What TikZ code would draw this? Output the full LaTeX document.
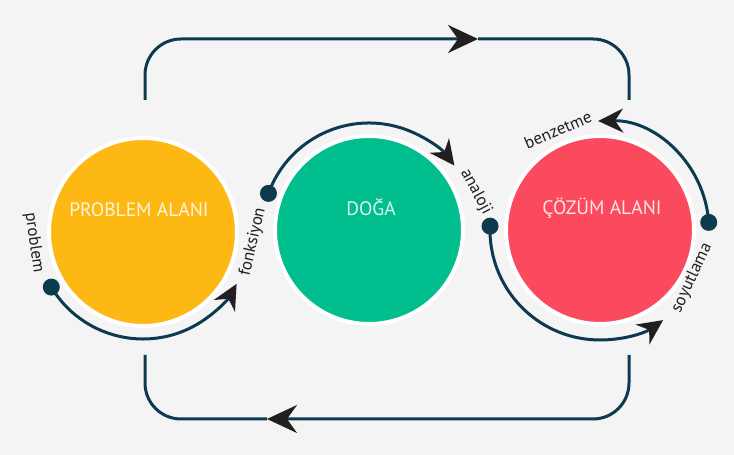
\documentclass[tikz,border=0pt]{standalone}
\usepackage{fontspec}
\setmainfont{PT Sans}
\usetikzlibrary{arrows.meta,calc,positioning}
\definecolor{probcol}{HTML}{FDB813}
\definecolor{dogacol}{HTML}{00BE8E}
\definecolor{cozcol}{HTML}{FB4A5D}
\definecolor{linecol}{HTML}{0C3B4F}
\definecolor{tipcol}{HTML}{231F20}
\definecolor{bgcol}{HTML}{F4F4F4}
\tikzset{
areacircle/.style = {circle, draw=white, line width=4pt, minimum size=188pt, inner sep=0pt},
areatitle/.style = {anchor=base, font=\fontsize{19.5}{19.5}\selectfont, text=white, text opacity=0.85},
backline/.style = {draw=linecol, line width=3pt, rounded corners=36pt},
arcline/.style = {draw=linecol, line width=3pt},
bigtip/.style = {-{Stealth[length=30pt,width=28pt,inset=10pt,color=tipcol]}},
smalltip/.style = {-{Stealth[length=25pt,width=24pt,inset=8pt,color=tipcol]}},
dotnode/.style = {circle, fill=linecol, minimum size=17pt, inner sep=0pt},
arclabel/.style = {font=\fontsize{17}{17}\selectfont, text=tipcol, inner sep=0pt}
}
\begin{document}
\begin{tikzpicture}[x=1pt,y=1pt]
\fill[bgcol] (0,0) rectangle (734,455);
\useasboundingbox (0,0) rectangle (734,455);

\node [areacircle, fill=probcol] (prob) at (143,223) {};
\node [areacircle, fill=dogacol] (doga) at (369,225) {};
\node [areacircle, fill=cozcol] (cozum) at (600,225) {};

\node [areatitle] (probtitle) at ($(prob)+(-4,15)$) {PROBLEM ALANI};
\node [areatitle] (dogatitle) at ($(doga)+(2,14)$) {DOĞA};
\node [areatitle] (cozumtitle) at ($(cozum)+(2,15)$) {ÇÖZÜM ALANI};

\coordinate (topL) at (145,355);
\coordinate (topA) at (478,416);
\coordinate (topR) at (629,355);
\coordinate (botR) at (629,100);
\coordinate (botA) at (267,36);
\coordinate (botL) at (145,100);
\draw [backline, bigtip] (topL) |- (topA);
\draw [backline] (topA) -| (topR);
\draw [backline, bigtip] (botR) |- (botA);
\draw [backline] (botA) -| (botL);

\coordinate (probstart) at ($(prob)+(211:107)$);
\coordinate (fonkstart) at ($(doga)+(160:107)$);
\coordinate (analstart) at ($(cozum)+(178:110)$);
\coordinate (soyustart) at ($(cozum)+(4:109)$);
\draw [arcline, smalltip] (probstart) arc[start angle=211, end angle=331, radius=107];
\draw [arcline, smalltip] (fonkstart) arc[start angle=160, end angle=37, radius=107];
\draw [arcline, smalltip] (analstart) arc[start angle=178, end angle=305, radius=110];
\draw [arcline, smalltip] (soyustart) arc[start angle=4, end angle=91, radius=109];
\node [dotnode] (probdot) at (probstart) {};
\node [dotnode] (fonkdot) at (fonkstart) {};
\node [dotnode] (analdot) at (analstart) {};
\node [dotnode] (soyudot) at (soyustart) {};

\node [arclabel, rotate=-82] (problabel) at (34,212) {problem};
\node [arclabel, rotate=77] (fonklabel) at (253,213) {fonksiyon};
\node [arclabel, rotate=-62] (anallabel) at (476,263) {analoji};
\node [arclabel, rotate=23] (benzlabel) at (558,325) {benzetme};
\node [arclabel, rotate=65] (soyulabel) at (692,177) {soyutlama};
\end{tikzpicture}
\end{document}
